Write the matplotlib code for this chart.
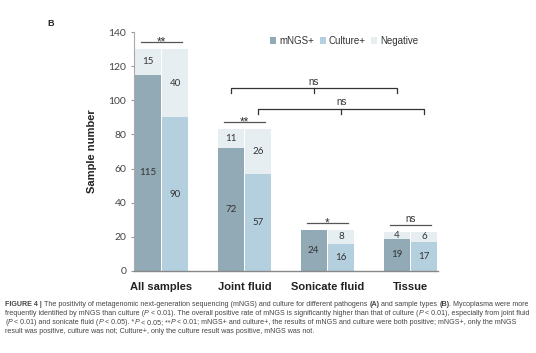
import numpy as np
import matplotlib.pyplot as plt

plt.rcParams['font.family'] = ['Liberation Sans', 'DejaVu Sans']

# 데이터
groups = ['All samples', 'Joint fluid', 'Sonicate fluid', 'Tissue']
mngs_pos = [115, 72, 24, 19]
mngs_neg = [15, 11, 0, 4]
cult_pos = [90, 57, 16, 17]
cult_neg = [40, 26, 8, 6]
stars = ['**', '**', '*', 'ns']
star_y = [134, 87, 28, 27]

c_mngs = '#91aab5'
c_cult = '#b4d0de'
c_neg = '#e7eef2'

fig = plt.figure(figsize=(5.36, 3.53), dpi=100)
ax = fig.add_axes([0.25, 0.2323, 0.567, 0.677])

x = np.arange(len(groups))
off = 0.166
w = 0.31

ax.bar(x - off, mngs_pos, w, color=c_mngs, label='mNGS+')
ax.bar(x + off, cult_pos, w, color=c_cult, label='Culture+')
ax.bar(x - off, mngs_neg, w, bottom=mngs_pos, color=c_neg, label='Negative')
ax.bar(x + off, cult_neg, w, bottom=cult_pos, color=c_neg)

num_kw = dict(ha='center', va='center', fontsize=7, color='#333333', family=['Lato', 'DejaVu Sans'])
for i in range(len(groups)):
    ax.text(x[i] - off, mngs_pos[i] / 2, str(mngs_pos[i]), **num_kw)
    ax.text(x[i] + off, cult_pos[i] / 2, str(cult_pos[i]), **num_kw)
    if mngs_neg[i] > 0:
        ax.text(x[i] - off, mngs_pos[i] + mngs_neg[i] / 2, str(mngs_neg[i]), **num_kw)
    ax.text(x[i] + off, cult_pos[i] + cult_neg[i] / 2, str(cult_neg[i]), **num_kw)

# 그룹 내 유의성 표시
for i in range(len(groups)):
    ax.plot([x[i] - 0.245, x[i] + 0.245], [star_y[i], star_y[i]], color='#555555', lw=0.9)
    if stars[i] == 'ns':
        ax.text(x[i], star_y[i] + 0.3, stars[i], ha='center', va='bottom', fontsize=7, color='#333333')
    else:
        ax.text(x[i], star_y[i] - 1.7, stars[i], ha='center', va='baseline', fontsize=8.5, color='#333333')

# 그룹 간 브래킷
def bracket(x1, x2, y, h=3):
    xm = (x1 + x2) / 2
    ax.plot([x1, x1, x2, x2], [y - h, y, y, y - h], color='#333333', lw=0.9)
    ax.plot([xm, xm], [y, y - h], color='#333333', lw=0.9)
    ax.text(xm, y + 0.8, 'ns', ha='center', va='bottom', fontsize=7, color='#333333')

bracket(x[1] - off, x[3] - off, 107)
bracket(x[1] + off, x[3] + off, 95)

ax.set_xlim(-0.331, 3.331)
ax.set_ylim(0, 140)
ax.set_yticks(np.arange(0, 141, 20))
ax.set_xticks(x)
ax.set_xticklabels(groups, fontsize=8, fontweight='bold', color='#222222')
ax.tick_params(axis='x', length=0, pad=8)
ax.tick_params(axis='y', length=2.5, width=0.8, color='#999999', labelsize=7.5, labelcolor='#444444', pad=3)
for lab in ax.get_yticklabels():
    lab.set_family(['Lato', 'DejaVu Sans'])
ax.spines['top'].set_visible(False)
ax.spines['right'].set_visible(False)
ax.spines['left'].set_color('#aaaaaa')
ax.spines['left'].set_linewidth(0.8)
ax.spines['bottom'].set_color('#888888')
ax.spines['bottom'].set_linewidth(1.0)
ax.set_ylabel('Sample number', fontsize=8, fontweight='bold', color='#222222', labelpad=8)

ax.legend(loc='upper left', bbox_to_anchor=(0.42, 1.02), ncol=3, frameon=False, fontsize=7,
          handlelength=0.6, handleheight=0.6, handletextpad=0.3, columnspacing=0.6, labelcolor='#333333')

fig.text(47 / 536, 1 - 23 / 353, 'B', fontsize=6.5, fontweight='bold', va='center', color='#222222')

# 캡션: (문자열, 굵게, 기울임) 조각으로 나눠서 이어 붙임
caption = [
    [('FIGURE 4 | ', 1, 0), ('The positivity of metagenomic next-generation sequencing (mNGS) and culture for different pathogens ', 0, 0),
     ('(A)', 1, 0), (' and sample types ', 0, 0), ('(B)', 1, 0), ('. Mycoplasma were more', 0, 0)],
    [('frequently identified by mNGS than culture (', 0, 0), ('P', 0, 1),
     (' < 0.01). The overall positive rate of mNGS is significantly higher than that of culture (', 0, 0), ('P', 0, 1),
     (' < 0.01), especially from joint fluid', 0, 0)],
    [('(', 0, 0), ('P', 0, 1), (' < 0.01) and sonicate fluid (', 0, 0), ('P', 0, 1), (' < 0.05). *', 0, 0), ('P', 0, 1),
     (' < 0.05; **', 0, 0), ('P', 0, 1),
     (' < 0.01; mNGS+ and culture+, the results of mNGS and culture were both positive; mNGS+, only the mNGS', 0, 0)],
    [('result was positive, culture was not; Culture+, only the culture result was positive, mNGS was not.', 0, 0)],
]
renderer = fig.canvas.get_renderer()
for k, parts in enumerate(caption):
    xpix = 5
    ypix = 353 - (306 + 9 * k)
    for s, b, it in parts:
        t = fig.text(xpix / 536, ypix / 353, s, fontsize=5.1, color='#444444', va='baseline', ha='left',
                     fontweight='bold' if b else 'normal', fontstyle='italic' if it else 'normal')
        ext = t.get_window_extent(renderer)
        xpix += ext.width

fig.savefig('out.png', dpi=100)
